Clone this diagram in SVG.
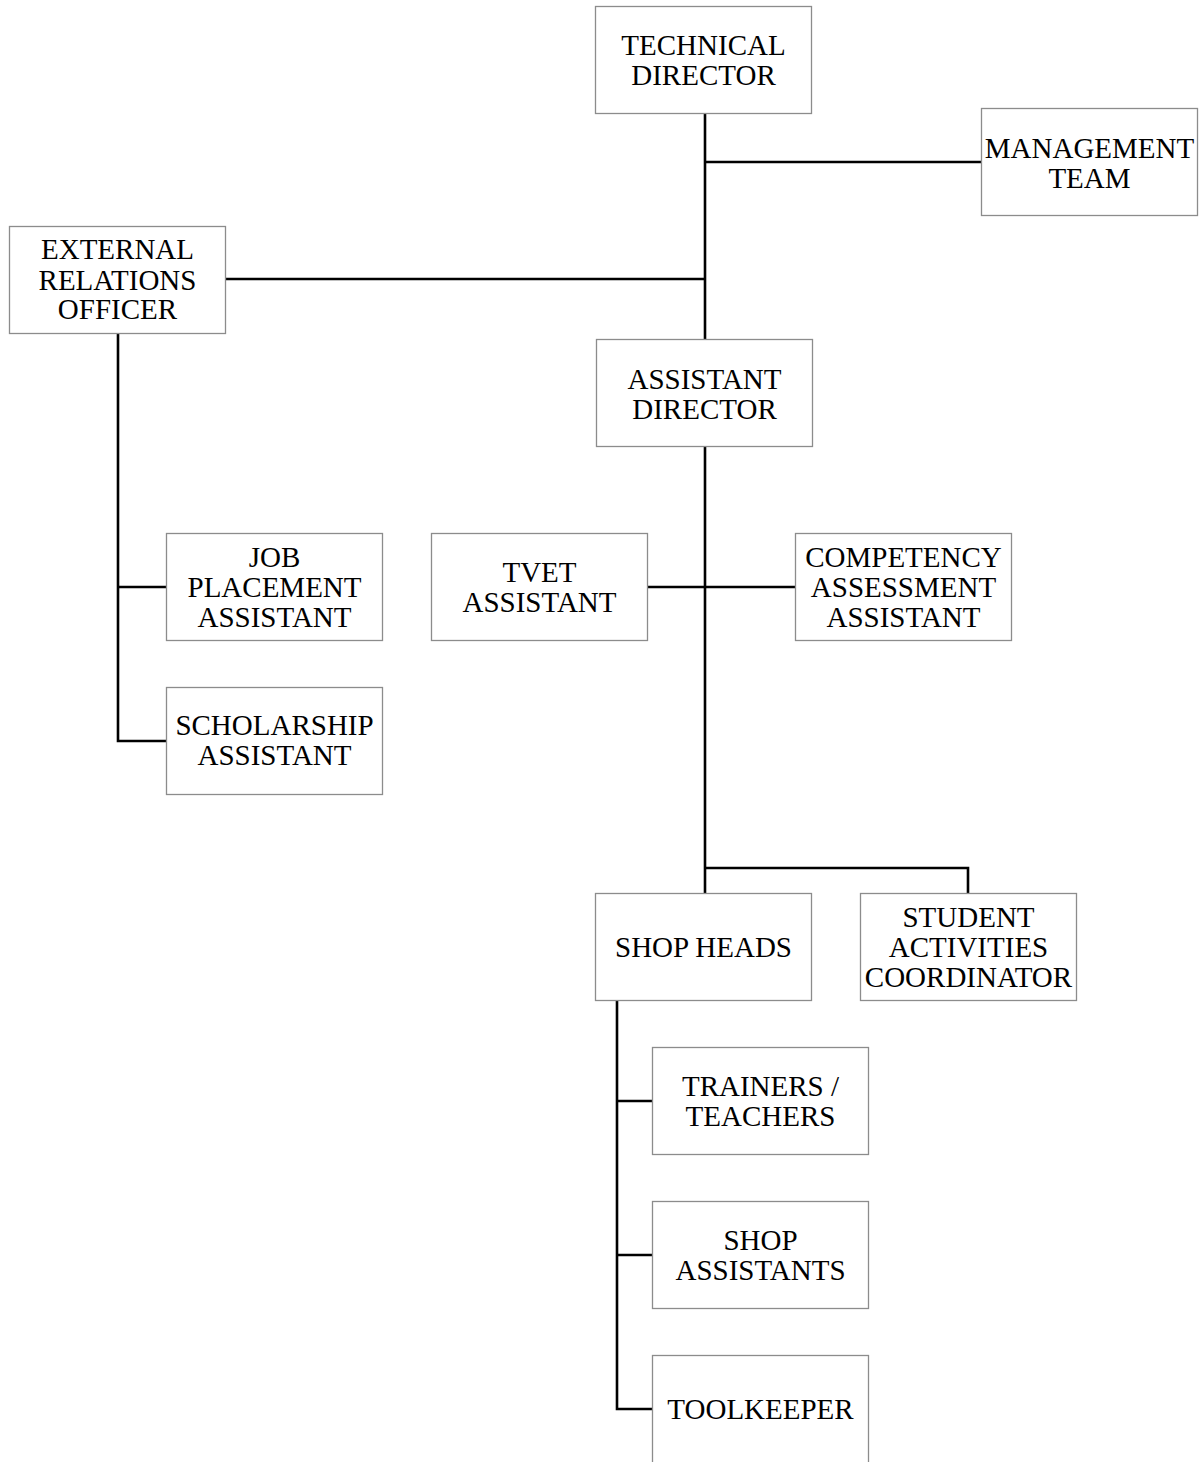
<svg xmlns="http://www.w3.org/2000/svg" width="1200" height="1462" viewBox="0 0 1200 1462">
  <style>
    .box { fill: #ffffff; stroke: #8c8c8c; stroke-width: 1.3; }
    .lbl { font-family: "Liberation Serif", "Times New Roman", serif; font-size: 29px; fill: #000000; text-anchor: middle; }
    .wire { fill: none; stroke: #000000; stroke-width: 2.6; stroke-linecap: butt; stroke-linejoin: miter; }
  </style>
  <rect width="1200" height="1462" fill="#ffffff"/>

  <!-- reporting lines -->
  <g id="connectors">
    <path class="wire" d="M705,113 V340"/>
    <path class="wire" d="M705,162 H981"/>
    <path class="wire" d="M226,279 H705"/>
    <path class="wire" d="M118,333 V741 H166"/>
    <path class="wire" d="M118,587 H166"/>
    <path class="wire" d="M705,447 V868"/>
    <path class="wire" d="M647,587 H795"/>
    <path class="wire" d="M705,868 V893"/>
    <path class="wire" d="M705,868 H968 V893"/>
    <path class="wire" d="M617,1000 V1409 H652"/>
    <path class="wire" d="M617,1101 H652"/>
    <path class="wire" d="M617,1255 H652"/>
  </g>

  <g id="technical-director">
    <rect class="box" x="595.5" y="6.5" width="216" height="107"/>
    <text class="lbl" x="703.5" y="54.5">TECHNICAL</text>
    <text class="lbl" x="703.5" y="84.5">DIRECTOR</text>
  </g>

  <g id="management-team">
    <rect class="box" x="981.5" y="108.5" width="216" height="107"/>
    <text class="lbl" x="1089.5" y="157.5">MANAGEMENT</text>
    <text class="lbl" x="1089.5" y="187.5">TEAM</text>
  </g>

  <g id="external-relations-officer">
    <rect class="box" x="9.5" y="226.5" width="216" height="107"/>
    <text class="lbl" x="117.5" y="258.5">EXTERNAL</text>
    <text class="lbl" x="117.5" y="289.5">RELATIONS</text>
    <text class="lbl" x="117.5" y="318.5">OFFICER</text>
  </g>

  <g id="assistant-director">
    <rect class="box" x="596.5" y="339.5" width="216" height="107"/>
    <text class="lbl" x="704.5" y="388.5">ASSISTANT</text>
    <text class="lbl" x="704.5" y="418.5">DIRECTOR</text>
  </g>

  <g id="job-placement-assistant">
    <rect class="box" x="166.5" y="533.5" width="216" height="107"/>
    <text class="lbl" x="274.5" y="566.5">JOB</text>
    <text class="lbl" x="274.5" y="596.5">PLACEMENT</text>
    <text class="lbl" x="274.5" y="626.5">ASSISTANT</text>
  </g>

  <g id="scholarship-assistant">
    <rect class="box" x="166.5" y="687.5" width="216" height="107"/>
    <text class="lbl" x="274.5" y="734.5">SCHOLARSHIP</text>
    <text class="lbl" x="274.5" y="764.5">ASSISTANT</text>
  </g>

  <g id="tvet-assistant">
    <rect class="box" x="431.5" y="533.5" width="216" height="107"/>
    <text class="lbl" x="539.5" y="581.5">TVET</text>
    <text class="lbl" x="539.5" y="611.5">ASSISTANT</text>
  </g>

  <g id="competency-assessment-assistant">
    <rect class="box" x="795.5" y="533.5" width="216" height="107"/>
    <text class="lbl" x="903.5" y="566.5">COMPETENCY</text>
    <text class="lbl" x="903.5" y="596.5">ASSESSMENT</text>
    <text class="lbl" x="903.5" y="626.5">ASSISTANT</text>
  </g>

  <g id="shop-heads">
    <rect class="box" x="595.5" y="893.5" width="216" height="107"/>
    <text class="lbl" x="703.5" y="956.5">SHOP HEADS</text>
  </g>

  <g id="student-activities-coordinator">
    <rect class="box" x="860.5" y="893.5" width="216" height="107"/>
    <text class="lbl" x="968.5" y="926.5">STUDENT</text>
    <text class="lbl" x="968.5" y="956.5">ACTIVITIES</text>
    <text class="lbl" x="968.5" y="986.5">COORDINATOR</text>
  </g>

  <g id="trainers-teachers">
    <rect class="box" x="652.5" y="1047.5" width="216" height="107"/>
    <text class="lbl" x="760.5" y="1095.5">TRAINERS /</text>
    <text class="lbl" x="760.5" y="1125.5">TEACHERS</text>
  </g>

  <g id="shop-assistants">
    <rect class="box" x="652.5" y="1201.5" width="216" height="107"/>
    <text class="lbl" x="760.5" y="1249.5">SHOP</text>
    <text class="lbl" x="760.5" y="1279.5">ASSISTANTS</text>
  </g>

  <g id="toolkeeper">
    <rect class="box" x="652.5" y="1355.5" width="216" height="110"/>
    <text class="lbl" x="760.5" y="1418.5">TOOLKEEPER</text>
  </g>
</svg>
